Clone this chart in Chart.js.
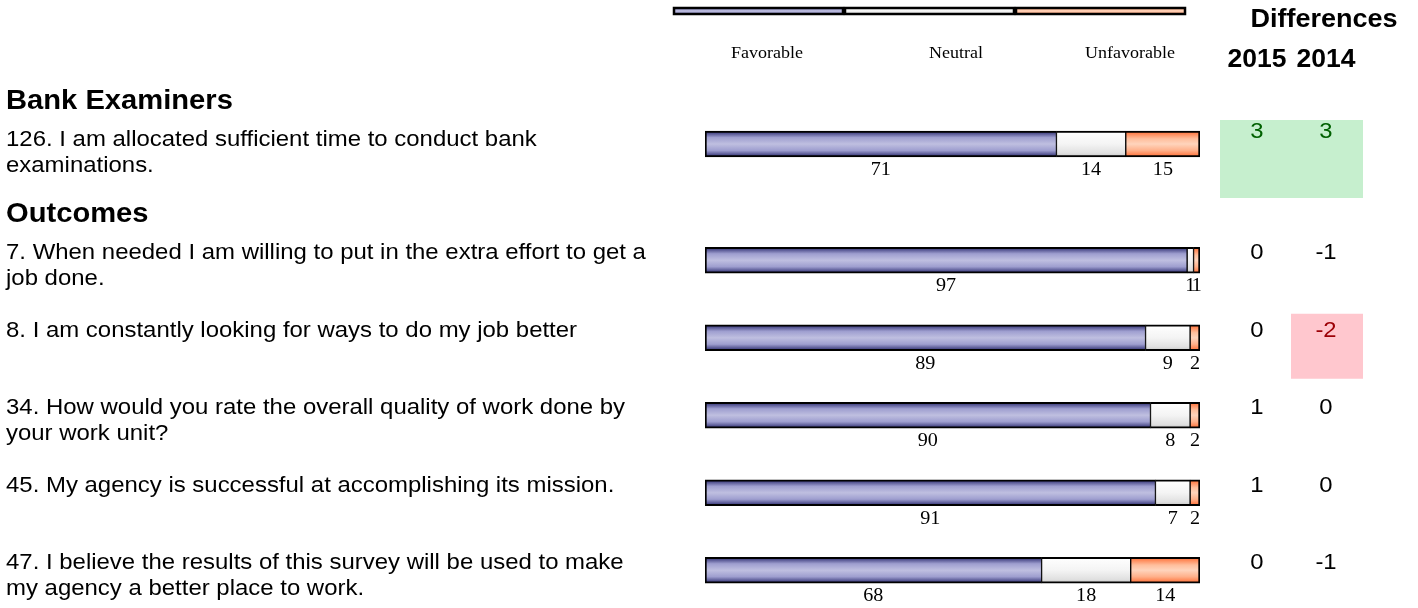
<!DOCTYPE html>
<html lang="en">
<head>
<meta charset="UTF-8">
<title>Survey results</title>
<script src="https://cdn.jsdelivr.net/npm/chart.js"></script>
<style>
body { margin: 0; background: #fff; }
#chart { display: block; }
</style>
</head>
<body>
<canvas id="chart" width="1418" height="608"></canvas>
<script>
// section headers and the row they sit above
const sections = ["Bank Examiners", "Outcomes"];
const sectionStarts = [0, 1];

const questions = [
    ["126. I am allocated sufficient time to conduct bank", "examinations."],
    ["7. When needed I am willing to put in the extra effort to get a", "job done."],
    ["8. I am constantly looking for ways to do my job better"],
    ["34. How would you rate the overall quality of work done by", "your work unit?"],
    ["45. My agency is successful at accomplishing its mission."],
    ["47. I believe the results of this survey will be used to make", "my agency a better place to work."]
];

// row slots on the y axis (first row has the extra section gap after it)
const rowPositions = [0, 1.5, 2.5, 3.5, 4.5, 5.5];

const seriesNames = ["Favorable", "Neutral", "Unfavorable"];
const favorable = [71, 97.4, 89, 90, 91, 68];
const neutral = [14, 1.3, 9, 8, 7, 18];
const unfavorable = [15, 1.3, 2, 2, 2, 14];

const diffYears = ["2015", "2014"];
const diff2015 = [3, 0, 0, 1, 1, 0];
const diff2014 = [3, -1, -2, 0, 0, -1];

const fills = [
    [[0, "#26266a"], [0.25, "#9e9ecf"], [0.5, "#bfbfe0"], [0.75, "#9e9ecf"], [1, "#26266a"]],
    [[0, "#ffffff"], [0.5, "#f4f4f4"], [0.85, "#e0e0e0"], [1, "#c4c4c4"]],
    [[0, "#ff6a30"], [0.3, "#ffbe9c"], [0.5, "#ffd4bc"], [0.75, "#ffb08a"], [1, "#ff6a30"]]
];

function barFill(stops) {
    return function (c) {
        const chart = c.chart;
        const yScale = chart.scales.y;
        if (c.type !== "data" || !yScale) return stops[2][1];
        const mid = yScale.getPixelForValue(c.raw.y);
        if (!isFinite(mid)) return stops[2][1];
        const g = chart.ctx.createLinearGradient(0, mid - 13, 0, mid + 13);
        stops.forEach(s => g.addColorStop(s[0], s[1]));
        return g;
    };
}

function points(values) {
    return values.map((v, i) => ({ x: v, y: rowPositions[i] }));
}

const sansFont = '"Liberation Sans", Arial, sans-serif';
const serifFont = '"Liberation Serif", "Times New Roman", serif';
const stretch = 1.06; // the source text is a touch wider than the installed fonts

function text(ctx, str, x, y, font, align) {
    ctx.save();
    ctx.font = font;
    ctx.textAlign = align || "left";
    ctx.textBaseline = "middle";
    ctx.translate(x, y);
    ctx.scale(stretch, 1);
    ctx.fillText(str, 0, 0);
    ctx.restore();
}

// text, legend strip and difference columns
const overlay = {
    id: "overlay",
    afterDatasetsDraw(chart) {
        const ctx = chart.ctx;
        const yScale = chart.scales.y;
        ctx.save();
        ctx.fillStyle = "#000";

        // segment values under the bars
        chart.data.datasets.forEach((ds, di) => {
            chart.getDatasetMeta(di).data.forEach((bar, i) => {
                text(ctx, String(Math.round(ds.data[i].x)), (bar.x + bar.base) / 2, bar.y + 26,
                    "19px " + serifFont, "center");
            });
        });

        // question text on the left
        questions.forEach((lines, i) => {
            const mid = yScale.getPixelForValue(rowPositions[i]);
            const top = mid - (i === 0 ? 4 : 7);
            lines.forEach((line, k) => text(ctx, line, 6, top + k * 25.5, "22.6px " + sansFont));
            const s = sectionStarts.indexOf(i);
            if (s >= 0) text(ctx, sections[s], 6, top - 39, "bold 27.5px " + sansFont);
        });

        // legend strip
        const lx0 = 673, lx1 = 1186, ly = 7, lh = 8;
        const seg = (lx1 - lx0) / 3;
        const legendX = [767, 956, 1130];
        seriesNames.forEach((name, k) => {
            const g = ctx.createLinearGradient(0, ly, 0, ly + lh);
            fills[k].forEach(s => g.addColorStop(s[0], s[1]));
            ctx.fillStyle = g;
            ctx.fillRect(lx0 + k * seg, ly, seg, lh);
            ctx.strokeStyle = "#000";
            ctx.lineWidth = 2.5;
            ctx.strokeRect(lx0 + k * seg + 1, ly + 1, seg - 2, lh - 2);
            ctx.fillStyle = "#000";
            text(ctx, name, legendX[k], 54, "17px " + serifFont, "center");
        });

        // differences header
        text(ctx, "Differences", 1324, 20, "bold 25.5px " + sansFont, "center");
        const colX = [1257, 1326];
        diffYears.forEach((yr, k) => text(ctx, yr, colX[k], 60, "bold 25px " + sansFont, "center"));

        // difference values, highlighted when significant
        const boxX = [1220, 1291];
        const cols = [diff2015, diff2014];
        questions.forEach((lines, i) => {
            const mid = yScale.getPixelForValue(rowPositions[i]);
            cols.forEach((vals, k) => {
                const v = vals[i];
                let color = "#000";
                if (Math.abs(v) >= 2) {
                    ctx.fillStyle = v > 0 ? "#c6efce" : "#ffc7ce";
                    ctx.fillRect(boxX[k], mid - 24, 72, 52 + lines.length * 13);
                    color = v > 0 ? "#006100" : "#9c0006";
                }
                ctx.fillStyle = color;
                text(ctx, String(v), colX[k], mid - (i === 0 ? 12 : 7), "22.5px " + sansFont, "center");
            });
        });

        ctx.restore();
    }
};

new Chart(document.getElementById("chart"), {
    type: "bar",
    data: {
        datasets: [favorable, neutral, unfavorable].map((vals, k) => ({
            label: seriesNames[k],
            data: points(vals),
            backgroundColor: barFill(fills[k]),
            borderColor: "#000",
            borderWidth: k === 0 ? { top: 2, bottom: 2, left: 2, right: 1 }
                : k === 1 ? { top: 2, bottom: 2, left: 1, right: 1 }
                : { top: 2, bottom: 2, left: 1, right: 2 },
            borderSkipped: false,
            barThickness: 26
        }))
    },
    options: {
        indexAxis: "y",
        responsive: false,
        animation: false,
        layout: { padding: { left: 705, right: 218, top: 66.5, bottom: 6.75 } },
        plugins: { legend: { display: false }, tooltip: { enabled: false } },
        scales: {
            x: { type: "linear", stacked: true, min: 0, max: 100, display: false },
            y: { type: "linear", stacked: true, offset: false, min: -1, max: 5.9, reverse: true, display: false }
        }
    },
    plugins: [overlay]
});
</script>
</body>
</html>
